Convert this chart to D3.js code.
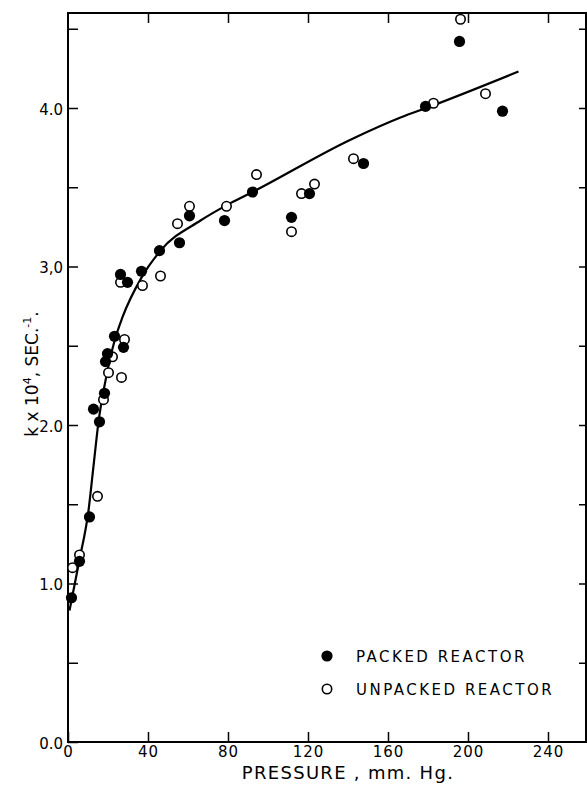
<!DOCTYPE html>
<html>
<head>
<meta charset="utf-8">
<script src="https://cdn.jsdelivr.net/npm/d3@7"></script>
<style>
  html, body { margin: 0; padding: 0; background: #fff; }
  svg { display: block; font-family: "DejaVu Sans", sans-serif; }
</style>
</head>
<body>
<svg id="chart"></svg>
<script>
// packed reactor (filled circles)
const packedP = [1.75, 5.75, 10.75, 12.75, 15.75, 18.25, 18.75, 19.75, 23.25, 27.75, 26.25, 29.75, 36.75, 45.75, 55.75, 60.75, 78.25, 92.25, 111.75, 120.75, 147.75, 178.75, 195.75, 217.25];
const packedK = [0.91, 1.14, 1.42, 2.10, 2.02, 2.20, 2.40, 2.45, 2.56, 2.49, 2.95, 2.90, 2.97, 3.10, 3.15, 3.32, 3.29, 3.47, 3.31, 3.46, 3.65, 4.01, 4.42, 3.98];

// unpacked reactor (open circles)
const unpackedP = [2.25, 5.75, 14.75, 17.75, 20.25, 22.25, 28.25, 26.75, 26.25, 37.25, 46.25, 54.75, 60.75, 79.25, 94.25, 111.75, 116.75, 123.25, 142.75, 182.75, 208.75, 196.25];
const unpackedK = [1.10, 1.18, 1.55, 2.16, 2.33, 2.43, 2.54, 2.30, 2.90, 2.88, 2.94, 3.27, 3.38, 3.38, 3.58, 3.22, 3.46, 3.52, 3.68, 4.03, 4.09, 4.56];

// fitted curve
const curveP = [0.75, 5.75, 10.25, 12.75, 15.25, 18.75, 23.25, 27.25, 36.75, 46.25, 66.25, 81.25, 92.25, 141.25, 166.25, 181.25, 225.25];
const curveK = [0.83, 1.15, 1.46, 1.74, 2.02, 2.28, 2.53, 2.68, 2.93, 3.10, 3.29, 3.40, 3.47, 3.80, 3.94, 4.01, 4.23];

const xTicks = [0, 40, 80, 120, 160, 200, 240];
const yTicks = [0, 1, 2, 3, 4];
const yTickLabels = ['0.0', '1.0', '2.0', '3,0', '4.0'];
const yMinorTicks = [0.5, 1.5, 2.5, 3.5, 4.5];

const width = 587;
const height = 785;
const plot = { left: 68, right: 586, top: 13, bottom: 742 };

const svg = d3.select('#chart')
  .attr('width', width)
  .attr('height', height);

const x = d3.scaleLinear()
  .domain([0, (plot.right - plot.left) / 2])
  .range([plot.left, plot.right]);

const y = d3.scaleLinear()
  .domain([0, (plot.bottom - plot.top) / 158.5])
  .range([plot.bottom, plot.top]);

const allY = yTicks.concat(yMinorTicks);

// frame
svg.append('rect')
  .attr('x', plot.left).attr('y', plot.top)
  .attr('width', plot.right - plot.left).attr('height', plot.bottom - plot.top)
  .attr('fill', 'none').attr('stroke', '#000').attr('stroke-width', 2);

// bottom axis (ticks point up)
const xAxis = svg.append('g')
  .attr('transform', `translate(0,${plot.bottom})`)
  .call(d3.axisBottom(x).tickValues(xTicks).tickSizeInner(-10).tickSizeOuter(0).tickPadding(4));
xAxis.select('.domain').remove();
xAxis.selectAll('line').attr('stroke-width', 1.5);
xAxis.selectAll('text').attr('font-size', 15).attr('font-family', '"DejaVu Sans", sans-serif').attr('letter-spacing', 1);

// top ticks
svg.append('g')
  .attr('transform', `translate(0,${plot.top})`)
  .call(d3.axisTop(x).tickValues(xTicks.slice(1)).tickSizeInner(-10).tickSizeOuter(0).tickFormat(''))
  .call(g => g.select('.domain').remove())
  .selectAll('line').attr('stroke-width', 1.5);

// left axis (ticks point right)
const yAxis = svg.append('g')
  .attr('transform', `translate(${plot.left},0)`)
  .call(d3.axisLeft(y).tickValues(allY).tickSizeInner(-10).tickSizeOuter(0).tickPadding(5)
    .tickFormat(d => { const i = yTicks.indexOf(d); return i >= 0 ? yTickLabels[i] : ''; }));
yAxis.select('.domain').remove();
yAxis.selectAll('line').attr('stroke-width', 1.5);
yAxis.selectAll('text').attr('font-size', 15).attr('font-family', '"DejaVu Sans", sans-serif').attr('dy', '0.4em');

// right ticks
svg.append('g')
  .attr('transform', `translate(${plot.right},0)`)
  .call(d3.axisRight(y).tickValues(allY.filter(d => d > 0)).tickSizeInner(-7).tickSizeOuter(0).tickFormat(''))
  .call(g => g.select('.domain').remove())
  .selectAll('line').attr('stroke-width', 1.5);

// fitted curve
const curveData = curveP.map((p, i) => [p, curveK[i]]);
svg.append('path')
  .datum(curveData)
  .attr('fill', 'none')
  .attr('stroke', '#000')
  .attr('stroke-width', 2.2)
  .attr('d', d3.line().x(d => x(d[0])).y(d => y(d[1])).curve(d3.curveMonotoneX));

// points
svg.append('g').selectAll('circle')
  .data(unpackedP.map((p, i) => [p, unpackedK[i]]))
  .enter().append('circle')
  .attr('cx', d => x(d[0])).attr('cy', d => y(d[1]))
  .attr('r', 4.7)
  .attr('fill', '#fff').attr('stroke', '#000').attr('stroke-width', 1.6);

svg.append('g').selectAll('circle')
  .data(packedP.map((p, i) => [p, packedK[i]]))
  .enter().append('circle')
  .attr('cx', d => x(d[0])).attr('cy', d => y(d[1]))
  .attr('r', 5.6)
  .attr('fill', '#000');

// legend
const legend = svg.append('g').attr('font-size', 15).attr('letter-spacing', 2.5);
legend.append('circle').attr('cx', 327).attr('cy', 656).attr('r', 5.6).attr('fill', '#000');
legend.append('text').attr('x', 356).attr('y', 662).text('PACKED REACTOR');
legend.append('circle').attr('cx', 327).attr('cy', 689).attr('r', 4.7)
  .attr('fill', '#fff').attr('stroke', '#000').attr('stroke-width', 1.6);
legend.append('text').attr('x', 356).attr('y', 695).text('UNPACKED REACTOR');

// axis titles
svg.append('text')
  .attr('x', 348).attr('y', 779)
  .attr('text-anchor', 'middle')
  .attr('font-size', 18)
  .attr('letter-spacing', 1.3)
  .text('PRESSURE , mm. Hg.');

const yTitle = svg.append('text')
  .attr('transform', 'translate(38,374) rotate(-90)')
  .attr('text-anchor', 'middle')
  .attr('font-size', 17);
yTitle.append('tspan').text('k x 10');
yTitle.append('tspan').attr('dy', -7).attr('font-size', 11).text('4');
yTitle.append('tspan').attr('dy', 7).text(', SEC.');
yTitle.append('tspan').attr('dy', -7).attr('font-size', 11).text('-1');
yTitle.append('tspan').attr('dy', 7).text('.');
</script>
</body>
</html>
